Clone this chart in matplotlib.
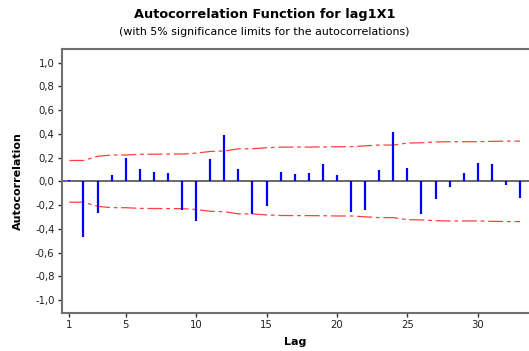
import matplotlib
matplotlib.use("Agg")
import matplotlib.pyplot as plt
import numpy as np

# autocorrelations, lags 1..33
lags = list(range(1, 34))
acf = [0.01, -0.47, -0.27, 0.053, 0.196, 0.104, 0.078, 0.07, -0.238, -0.336,
       0.188, 0.387, 0.104, -0.272, -0.21, 0.078, 0.062, 0.07, 0.146, 0.053,
       -0.26, -0.244, 0.095, 0.412, 0.112, -0.277, -0.146, -0.045, 0.07, 0.154,
       0.146, -0.028, -0.137]
# 5% significance limit per lag (upper, lower is mirrored)
limit = [0.176, 0.176, 0.211, 0.222, 0.222, 0.228, 0.229, 0.230, 0.230, 0.238,
         0.252, 0.256, 0.274, 0.275, 0.283, 0.288, 0.289, 0.289, 0.290, 0.292,
         0.292, 0.299, 0.306, 0.306, 0.323, 0.325, 0.332, 0.334, 0.334, 0.334,
         0.337, 0.339, 0.339]

xticks = [1, 5, 10, 15, 20, 25, 30]
yticks = [-1.0, -0.8, -0.6, -0.4, -0.2, 0.0, 0.2, 0.4, 0.6, 0.8, 1.0]
ytick_labels = [("%.1f" % v).replace(".", ",") for v in yticks]

fig = plt.figure(figsize=(5.29, 3.51), dpi=100)
ax = fig.add_axes([0.1163, 0.1083, 0.8837, 0.7535])

lim = np.array(limit)
ax.axhline(0, color="#404040", lw=1.1, zorder=1)
ax.vlines(lags, 0, acf, color="#0000ff", lw=1.6, zorder=3)
ax.plot(lags, lim, color="#ff4040", lw=0.9, dashes=(12, 3, 3, 3), zorder=2)
ax.plot(lags, -lim, color="#ff4040", lw=0.9, dashes=(12, 3, 3, 3), zorder=2)

ax.set_xlim(0.44, 33.64)
ax.set_ylim(-1.11, 1.12)
ax.set_xticks(xticks)
ax.set_yticks(yticks)
ax.set_yticklabels(ytick_labels)
ax.tick_params(labelsize=7.3, length=3, width=1, color="#303030", labelcolor="#202020", pad=2)

for s in ["left", "bottom", "top"]:
    ax.spines[s].set_color("#707070")
    ax.spines[s].set_linewidth(1.5)
ax.spines["right"].set_visible(False)

ax.set_xlabel("Lag", fontsize=8, fontweight="bold", labelpad=5)
ax.set_ylabel("Autocorrelation", fontsize=8, fontweight="bold", labelpad=9)

fig.text(0.5, 0.958, "Autocorrelation Function for lag1X1", ha="center", va="center",
         fontsize=9.3, fontweight="bold")
fig.text(0.5, 0.91, "(with 5% significance limits for the autocorrelations)", ha="center",
         va="center", fontsize=7.9)

fig.savefig("out.png", dpi=100)
